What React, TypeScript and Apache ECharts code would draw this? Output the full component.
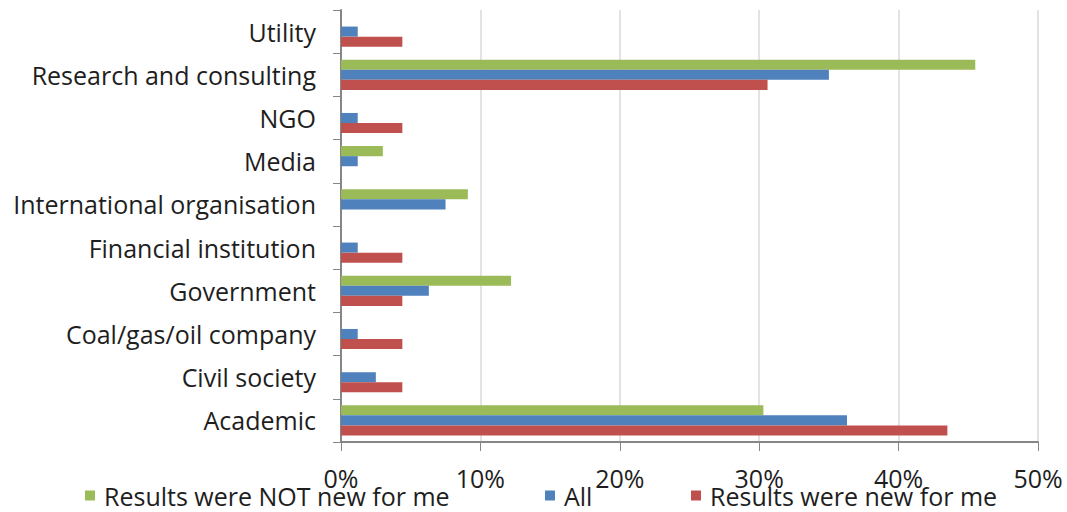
import React, { useEffect, useRef } from "react";
import * as echarts from "echarts";

// Respondent groups, listed from the bottom of the axis to the top
const categories = [
  "Academic",
  "Civil society",
  "Coal/gas/oil company",
  "Government",
  "Financial institution",
  "International organisation",
  "Media",
  "NGO",
  "Research and consulting",
  "Utility",
];

// Shares of respondents (%) in the same order as categories
const notNewValues = [30.3, 0, 0, 12.2, 0, 9.1, 3.0, 0, 45.5, 0];
const allValues = [36.3, 2.5, 1.2, 6.3, 1.2, 7.5, 1.2, 1.2, 35.0, 1.2];
const newValues = [43.5, 4.4, 4.4, 4.4, 4.4, 0, 0, 4.4, 30.6, 4.4];

const xTicks = [0, 10, 20, 30, 40, 50];

const seriesNames = [
  "Results were NOT new for me",
  "All",
  "Results were new for me",
];
const seriesColors = ["#9BBB59", "#4F81BD", "#C0504D"];
const legendLefts = [85, 545, 691];

const FONT = "'Open Sans', Lato, sans-serif";
const TEXT = "#1e1e1e";

export default function App() {
  const ref = useRef<HTMLDivElement>(null);

  useEffect(() => {
    if (!ref.current) return;
    document.body.style.margin = "0";
    const chart = echarts.init(ref.current, undefined, { renderer: "svg" });
    const values = [notNewValues, allValues, newValues];
    chart.setOption({
      animation: false,
      backgroundColor: "#ffffff",
      grid: { left: 341, right: 29, top: 10, bottom: 70, containLabel: false },
      legend: seriesNames.map((name, i) => ({
        data: [name],
        left: legendLefts[i],
        top: 483,
        padding: 0,
        itemWidth: 10,
        itemHeight: 10,
        icon: "rect",
        textStyle: {
          fontFamily: FONT,
          fontSize: 25,
          color: TEXT,
          padding: [0, 0, 0, 4],
        },
      })),
      xAxis: {
        type: "value",
        min: 0,
        max: 50,
        interval: 10,
        axisLine: { show: true, lineStyle: { color: "#868686", width: 2 } },
        axisTick: { show: true, length: 9, lineStyle: { color: "#868686" } },
        splitLine: { show: true, lineStyle: { color: "#dadada", width: 1.5 } },
        axisLabel: {
          fontFamily: FONT,
          fontSize: 25,
          color: TEXT,
          margin: 23,
          formatter: (v: number) => (xTicks.includes(v) ? `${v}%` : ""),
        },
      },
      yAxis: {
        type: "category",
        data: categories,
        axisLine: { show: true, lineStyle: { color: "#868686", width: 2 } },
        axisTick: { show: true, length: 8, lineStyle: { color: "#868686" } },
        axisLabel: {
          fontFamily: FONT,
          fontSize: 25,
          color: TEXT,
          margin: 25,
        },
      },
      series: seriesNames.map((name, i) => ({
        name,
        type: "bar",
        data: values[i],
        itemStyle: { color: seriesColors[i] },
        barGap: "0%",
        barCategoryGap: "30%",
      })),
    });
    return () => chart.dispose();
  }, []);

  return <div ref={ref} style={{ width: 1067, height: 512 }} />;
}
